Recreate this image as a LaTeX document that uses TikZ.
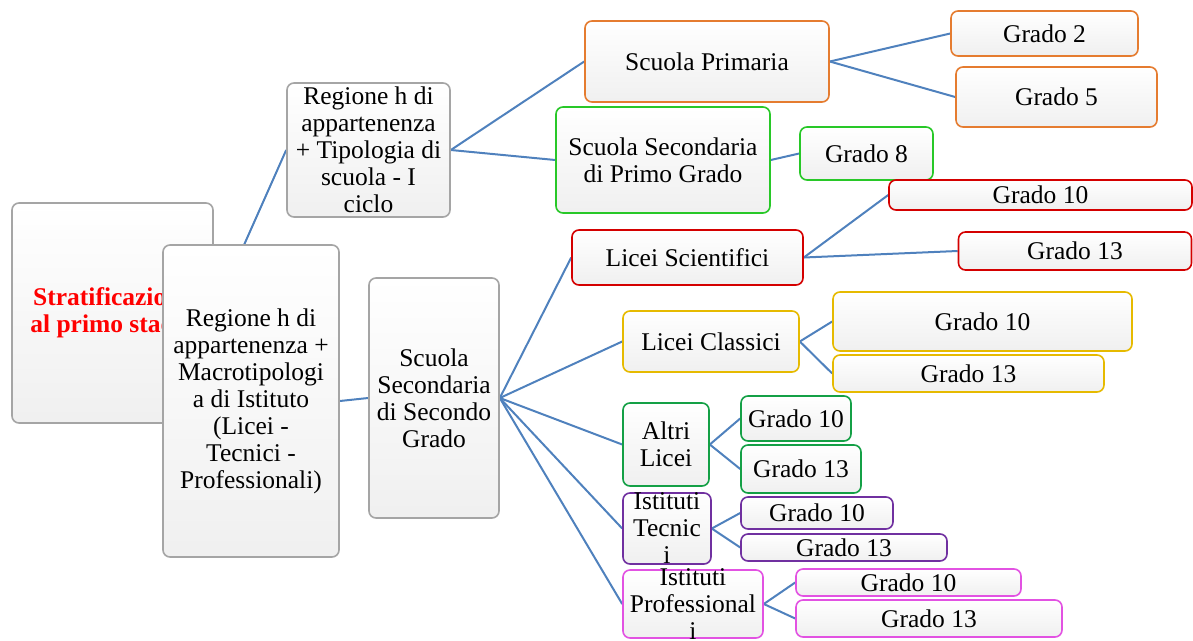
\documentclass[tikz,border=0pt]{standalone}
\usepackage{fontspec}
\setmainfont{Liberation Serif}
\usetikzlibrary{backgrounds}
\definecolor{linkblue}{RGB}{79,129,189}
\definecolor{boxgray}{RGB}{165,165,165}
\definecolor{titlered}{RGB}{255,0,0}
\definecolor{primorange}{RGB}{229,124,48}
\definecolor{primogreen}{RGB}{40,200,40}
\definecolor{sciered}{RGB}{212,0,0}
\definecolor{classgold}{RGB}{230,186,0}
\definecolor{altrigreen}{RGB}{20,160,70}
\definecolor{tecnpurple}{RGB}{112,48,160}
\definecolor{profmagenta}{RGB}{226,82,226}

\begin{document}
\begin{tikzpicture}[x=1pt,y=-1pt,
        box/.style={rectangle,rounded corners=7pt,draw=#1,line width=1.6pt,
          top color=white,bottom color=black!6,inner sep=0pt,align=center,
          font=\fontsize{25.5}{27}\selectfont},
        box/.default=boxgray,
        txt/.style={align=center,font=\fontsize{25.5}{27}\selectfont},
        link/.style={draw=linkblue,line width=2pt}]
        \useasboundingbox (0,0) rectangle (1193,640);
        \node[box,minimum width=201pt,minimum height=220pt] (strat) at (112.5,313)
          {\textcolor{titlered}{\bfseries Stratificazione}\\\textcolor{titlered}{\bfseries al primo stadio}};
        \node[box,minimum width=176pt,minimum height=312pt] (macro) at (251,401)
          {Regione h di\\appartenenza +\\Macrotipologi\\a di Istituto\\(Licei -\\Tecnici -\\Professionali)};
        \node[box,minimum width=163pt,minimum height=134pt] (ciclo) at (368.5,150)
          {Regione h di\\appartenenza\\+ Tipologia di\\scuola - I\\ciclo};
        \node[box,minimum width=130pt,minimum height=240pt] (secondo) at (434,398)
          {Scuola\\Secondaria\\di Secondo\\Grado};
        \node[box=primorange,minimum width=244pt,minimum height=81pt] (prim) at (707,61.5) {Scuola Primaria};
        \node[box=primorange,minimum width=187pt,minimum height=45pt] (prim2) at (1044.5,33.5) {Grado 2};
        \node[box=primorange,minimum width=201pt,minimum height=60pt] (prim5) at (1056.5,97) {Grado 5};
        \node[box=primogreen,minimum width=214pt,minimum height=106pt] (primo) at (663,160)
          {Scuola Secondaria\\di Primo Grado};
        \node[box=primogreen,minimum width=133pt,minimum height=53pt] (primo8) at (866.5,153.5) {Grado 8};
        \node[box=sciered,minimum width=231pt,minimum height=55pt] (scie) at (687.5,257.5) {Licei Scientifici};
        \node[box=sciered,minimum width=303pt,minimum height=30pt] (scie10) at (1040.5,195) {Grado 10};
        \node[box=sciered,minimum width=233pt,minimum height=38pt] (scie13) at (1075,251) {Grado 13};
        \node[box=classgold,minimum width=176pt,minimum height=61pt] (class) at (711,341.5) {Licei Classici};
        \node[box=classgold,minimum width=299pt,minimum height=59pt] (class10) at (982.5,321.5) {Grado 10};
        \node[box=classgold,minimum width=271pt,minimum height=37pt] (class13) at (968.5,373.5) {Grado 13};
        \node[box=altrigreen,minimum width=86pt,minimum height=83pt] (altri) at (666,444.5) {Altri\\Licei};
        \node[box=altrigreen,minimum width=110pt,minimum height=45pt] (altri10) at (796,418.5) {Grado 10};
        \node[box=altrigreen,minimum width=120pt,minimum height=48pt] (altri13) at (801,469) {Grado 13};
        \node[box=tecnpurple,minimum width=88pt,minimum height=71pt,
          label={[txt]center:Istituti\\Tecnic\\i}] (tecn) at (667,528.5) {};
        \node[box=tecnpurple,minimum width=152pt,minimum height=32pt] (tecn10) at (817,513) {Grado 10};
        \node[box=tecnpurple,minimum width=206pt,minimum height=27pt] (tecn13) at (844,547.5) {Grado 13};
        \node[box=profmagenta,minimum width=140pt,minimum height=68pt,
          label={[txt]center:Istituti\\Professional\\i}] (prof) at (693,604) {};
        \node[box=profmagenta,minimum width=225pt,minimum height=27pt] (prof10) at (908.5,582.5) {Grado 10};
        \node[box=profmagenta,minimum width=266pt,minimum height=37pt] (prof13) at (929,618.5) {Grado 13};
        \begin{scope}[on background layer]
          \draw[link] (strat.east) -- (ciclo.west);
          \draw[link] (strat.east) -- (macro.west);
          \draw[link] (macro.east) -- (secondo.west);
          \draw[link] (ciclo.east) -- (prim.west);
          \draw[link] (ciclo.east) -- (primo.west);
          \draw[link] (prim.east) -- (prim2.west);
          \draw[link] (prim.east) -- (prim5.west);
          \draw[link] (primo.east) -- (primo8.west);
          \draw[link] (secondo.east) -- (scie.west);
          \draw[link] (secondo.east) -- (class.west);
          \draw[link] (secondo.east) -- (altri.west);
          \draw[link] (secondo.east) -- (tecn.west);
          \draw[link] (secondo.east) -- (prof.west);
          \draw[link] (scie.east) -- (scie10.west);
          \draw[link] (scie.east) -- (scie13.west);
          \draw[link] (class.east) -- (class10.west);
          \draw[link] (class.east) -- (class13.west);
          \draw[link] (altri.east) -- (altri10.west);
          \draw[link] (altri.east) -- (altri13.west);
          \draw[link] (tecn.east) -- (tecn10.west);
          \draw[link] (tecn.east) -- (tecn13.west);
          \draw[link] (prof.east) -- (prof10.west);
          \draw[link] (prof.east) -- (prof13.west);
        \end{scope}
      \end{tikzpicture}
\end{document}
